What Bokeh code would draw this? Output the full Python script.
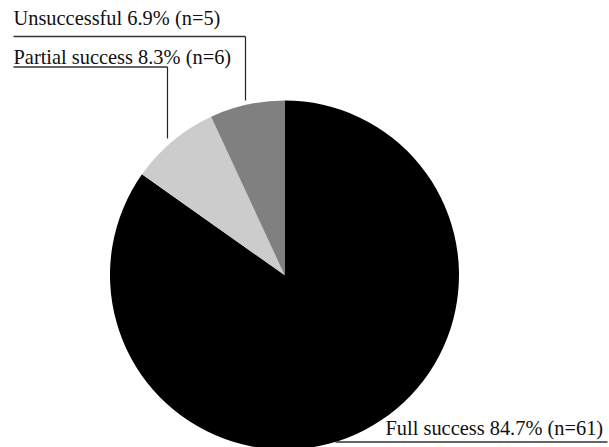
import math
from bokeh.plotting import figure
from bokeh.models import Range1d, ColumnDataSource
from bokeh.core.properties import value
from bokeh.embed import file_html
from bokeh.resources import INLINE

# ---- data ----
categories = ["Full success", "Partial success", "Unsuccessful"]
percents = [84.7, 8.3, 6.9]
counts = [61, 6, 5]
colors = ["#000000", "#cccccc", "#808080"]

W, H = 609, 447
p = figure(width=W, height=H, output_backend="svg", toolbar_location=None,
           x_range=Range1d(0, W), y_range=Range1d(0, H), min_border=0)
p.axis.visible = False
p.grid.visible = False
p.outline_line_color = None
p.background_fill_color = "white"

# pie geometry (pixel space, y up)
cx, cy, r = 284, H - 274.5, 174.5

# slices: full success clockwise from 12 o'clock; others follow
total = sum(percents)
order = [2, 1, 0]
start = 90.0
starts, ends = [0]*3, [0]*3
for i in order:
    span = percents[i] / total * 360.0
    starts[i] = math.radians(start)
    ends[i] = math.radians(start + span)
    start += span
src = ColumnDataSource(dict(x=[cx]*3, y=[cy]*3, start=starts, end=ends,
                            color=colors, cat=categories))
p.wedge(x="x", y="y", radius=r, start_angle="start", end_angle="end",
        fill_color="color", line_color=None, direction="anticlock", source=src)

# ---- labels (layout) ----
label_text = [f"{c} {pc}% (n={n})" for c, pc, n in zip(categories, percents, counts)]
# x, baseline, underline y, underline x0, x1, leader end y (pixel coords, y down)
layout = {
    "Full success": (385, 435, 441.5, 335, 607, None),
    "Partial success": (13, 63.5, 66.5, 13, 167, 138),
    "Unsuccessful": (13, 25, 36, 13, 245, 100),
}
BASE_FIX = 7.5
for cat, txt in zip(categories, label_text):
    tx, tb, uy, ux0, ux1, ly = layout[cat]
    p.text(x=[tx], y=[H - tb + BASE_FIX], text=[txt], text_font=value("Liberation Serif"),
           text_font_size="20.4px", text_color="#111111", text_baseline="alphabetic",
           text_align="left")
    p.line(x=[ux0, ux1], y=[H - uy, H - uy], line_color="#333333", line_width=1.3)
    if ly is not None:
        p.line(x=[ux1, ux1], y=[H - uy, H - ly], line_color="#222222", line_width=1.2)

open("out.html", "w").write(file_html(p, INLINE))
